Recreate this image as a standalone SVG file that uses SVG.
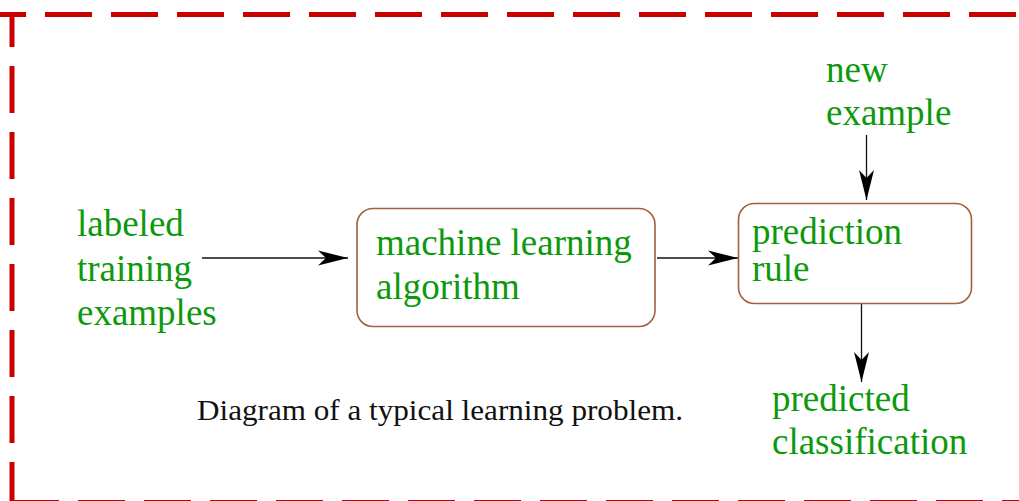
<svg xmlns="http://www.w3.org/2000/svg" width="1019" height="501" viewBox="0 0 1019 501">
<style>
.border{stroke:#c80000;stroke-width:5;fill:none;stroke-dasharray:47 19}
.box{fill:#fff;stroke:#a4603e;stroke-width:1.6}
.lbl{font-family:"Liberation Serif","Times New Roman",serif;font-size:37px;fill:#0c990c}
.cap{font-family:"Liberation Serif","Times New Roman",serif;font-size:29px;fill:#111}
.conn{stroke:#111;stroke-width:1.3;fill:none}
</style>
<defs>
<marker id="ah" markerUnits="userSpaceOnUse" markerWidth="34" markerHeight="18" viewBox="-32 -9 34 18" refX="0" refY="0" orient="auto">
<path d="M0,0 L-30,-7.5 L-22,0 L-30,7.5 Z" fill="#000"/>
</marker>
</defs>
<rect width="1019" height="501" fill="#fff"/>
<g id="border">
<line class="border" x1="-21" y1="14.5" x2="1019" y2="14.5" stroke-dashoffset="0"/>
<line class="border" x1="12" y1="12" x2="12" y2="510" stroke-dashoffset="12"/>
<line class="border" x1="9.5" y1="502.5" x2="1019" y2="502.5" stroke-dashoffset="-2.5"/>
</g>
<g id="connectors">
<line class="conn" x1="202" y1="258" x2="348" y2="258" marker-end="url(#ah)"/>
<line class="conn" x1="657" y1="258" x2="738" y2="258" marker-end="url(#ah)"/>
<line class="conn" x1="866.5" y1="135" x2="866.5" y2="200" marker-end="url(#ah)"/>
<line class="conn" x1="861.5" y1="304" x2="861.5" y2="382" marker-end="url(#ah)" stroke="#555"/>
</g>
<g id="labeled-training">
<text class="lbl" x="77" y="236">labeled</text>
<text class="lbl" x="77" y="281">training</text>
<text class="lbl" x="77" y="325">examples</text>
</g>
<g id="ml-algorithm">
<rect class="box" x="357" y="208.5" width="298" height="118" rx="16"/>
<text class="lbl" x="376" y="255">machine learning</text>
<text class="lbl" x="376" y="299">algorithm</text>
</g>
<g id="prediction-rule">
<rect class="box" x="738.5" y="203.5" width="233" height="100" rx="16"/>
<text class="lbl" x="752" y="244">prediction</text>
<text class="lbl" x="752" y="281">rule</text>
</g>
<g id="new-example">
<text class="lbl" x="826" y="82">new</text>
<text class="lbl" x="826" y="125">example</text>
</g>
<g id="predicted-classification">
<text class="lbl" x="772" y="411">predicted</text>
<text class="lbl" x="772" y="454">classification</text>
</g>
<g id="caption">
<text class="cap" x="197" y="420" textLength="486" lengthAdjust="spacingAndGlyphs">Diagram of a typical learning problem.</text>
</g>
</svg>
